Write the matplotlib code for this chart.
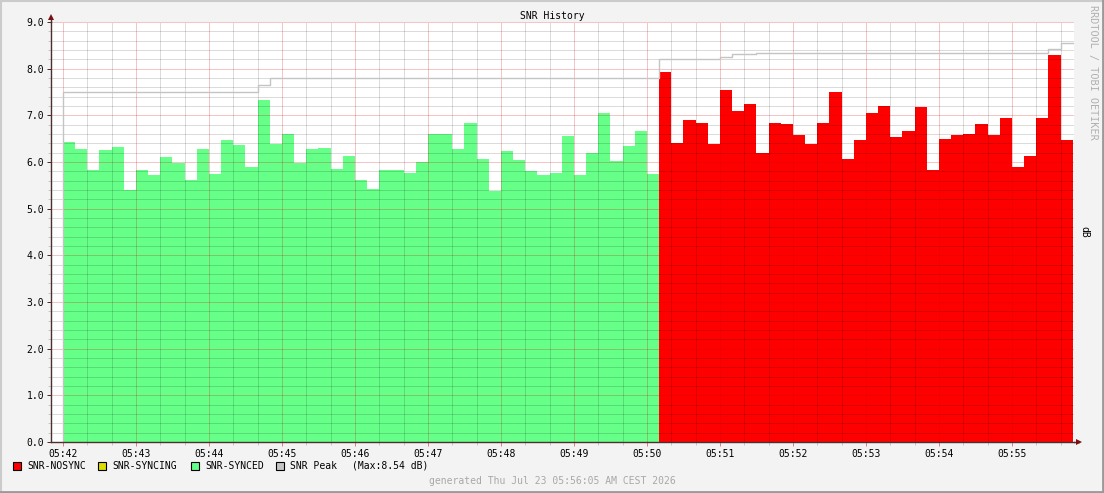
import matplotlib
matplotlib.use("Agg")
import matplotlib.pyplot as plt
from matplotlib.lines import Line2D
from matplotlib.patches import Rectangle
import numpy as np

# ---------------- data ----------------
step_s = 10  # seconds per sample
synced_vals = [6.43, 6.28, 5.83, 6.26, 6.32, 5.41, 5.83, 5.72, 6.11, 5.98,
               5.61, 6.28, 5.74, 6.47, 6.36, 5.89, 7.33, 6.39, 6.60, 5.98,
               6.28, 6.30, 5.85, 6.13, 5.61, 5.42, 5.83, 5.83, 5.76, 6.00,
               6.60, 6.60, 6.28, 6.84, 6.06, 5.38, 6.24, 6.04, 5.81, 5.72,
               5.76, 6.56, 5.72, 6.19, 7.05, 6.02, 6.34, 6.66, 5.74]
nosync_vals = [7.93, 6.41, 6.90, 6.84, 6.39, 7.54, 7.09, 7.24, 6.19, 6.84,
               6.81, 6.58, 6.39, 6.84, 7.50, 6.06, 6.47, 7.05, 7.20, 6.54,
               6.66, 7.18, 5.83, 6.49, 6.58, 6.60, 6.81, 6.58, 6.94, 5.89,
               6.13, 6.94, 8.29, 6.47]
peak_vals = ([7.50] * 16 + [7.66] + [7.81] * 32 + [8.20] * 5 + [8.25] +
             [8.31] * 2 + [8.33] * 24 + [8.43] + [8.54])
tick_labels = ["05:42", "05:43", "05:44", "05:45", "05:46", "05:47", "05:48",
               "05:49", "05:50", "05:51", "05:52", "05:53", "05:54", "05:55"]
legend_labels = ["SNR-NOSYNC", "SNR-SYNCING", "SNR-SYNCED", "SNR Peak"]
peak_max_text = "(Max:8.54 dB)"
title = "SNR History"
generated = "generated Thu Jul 23 05:56:05 AM CEST 2026"

# ---------------- colours ----------------
C_NOSYNC = "#FF0000"
C_SYNCING = "#DDDD00"
C_SYNCED = "#66FF88"
C_PEAK = "#C4C4C4"
C_BACK = "#F3F3F3"
C_AXIS = "#4A3030"
C_ARROW = "#7A1010"

W, H = 1104, 493
fig = plt.figure(figsize=(W / 100, H / 100), dpi=100, facecolor=C_BACK)
plt.rcParams["font.family"] = ["DejaVu Sans Mono"]
FS = 7

L, R, T, B = 51, 1074, 22, 442
ax = fig.add_axes([L / W, 1 - B / H, (R - L) / W, (B - T) / H])
ax.set_facecolor("white")

n_sync = len(synced_vals)
n_nosync = len(nosync_vals)
t_sync = np.arange(n_sync) * step_s
t_nosync = (np.arange(n_nosync) + n_sync) * step_s
t_all = np.arange(n_sync + n_nosync) * step_s

ax.bar(t_sync, synced_vals, width=step_s, align="edge", color=C_SYNCED,
       linewidth=0, zorder=1)
ax.bar(t_nosync, nosync_vals, width=step_s, align="edge", color=C_NOSYNC,
       linewidth=0, zorder=1)

x_end = (n_sync + n_nosync) * step_s
px_per_s = 73 / 60.0
ax.set_xlim(-(63 - L) / px_per_s, x_end + 1)
ax.set_ylim(0, 9.0)

# grids (drawn over the areas, under the peak line)
major_x = np.arange(len(tick_labels)) * 60
minor_x = np.arange(0, x_end + 1, 20)
major_y = np.arange(0, 9.01, 1.0)
minor_y = np.arange(0, 9.01, 0.2)
ax.set_xticks(major_x)
ax.set_xticks(minor_x, minor=True)
ax.set_xticklabels(tick_labels)
ax.set_yticks(major_y)
ax.set_yticks(minor_y, minor=True)
ax.set_yticklabels([f"{v:.1f}" for v in major_y])

dot = (0, (1, 1))
for xv in minor_x:
    if xv % 60:
        ax.axvline(xv, color="black", alpha=0.28, linestyle=dot, lw=0.72,
                   zorder=1.5)
for yv in minor_y:
    if abs(yv - round(yv)) > 1e-6:
        ax.axhline(yv, color="black", alpha=0.28, linestyle=dot, lw=0.72,
                   zorder=1.5)
for xv in major_x:
    ax.axvline(xv, color="#D00000", alpha=0.45, linestyle=dot, lw=0.72,
               zorder=1.6)
for yv in major_y[1:]:
    ax.axhline(yv, color="#D00000", alpha=0.45, linestyle=dot, lw=0.72,
               zorder=1.6)

# peak step line
px = np.concatenate([[t_all[0], t_all[0]], t_all, [t_all[-1] + step_s]])
py = np.concatenate([[0, peak_vals[0]], peak_vals, [peak_vals[-1]]])
ax.step(px, py, where="post", color=C_PEAK, linewidth=1.0, zorder=2)

ax.tick_params(which="major", length=3, width=0.72, color="#E08080",
               labelsize=FS, pad=2, direction="out")
ax.tick_params(which="minor", length=2, width=0.72, color="#C8C8C8",
               direction="out")
ax.tick_params(axis="y", which="major", color=C_AXIS)

for s in ("top", "right"):
    ax.spines[s].set_visible(False)
for s in ("left", "bottom"):
    ax.spines[s].set_color(C_AXIS)
    ax.spines[s].set_linewidth(1.0)
    ax.spines[s].set_zorder(3)

# axis extensions and arrows (in pixel space)
def fx(x):
    return x / W

def fy(y):
    return 1 - y / H

fig.add_artist(Line2D([fx(L), fx(L)], [fy(T), fy(17)], color=C_AXIS, lw=1.0))
fig.add_artist(Line2D([fx(R), fx(1079)], [fy(B), fy(B)], color=C_AXIS, lw=1.0))
fig.add_artist(Line2D([fx(L)], [fy(17)], marker="^", markersize=4.5,
                      color=C_ARROW, markeredgewidth=0))
fig.add_artist(Line2D([fx(1079)], [fy(B)], marker=">", markersize=4.5,
                      color=C_ARROW, markeredgewidth=0))

# titles and side texts
fig.text(fx(552), fy(16), title, ha="center", va="center", fontsize=FS,
         color="black")
fig.text(fx(1093), fy(5), "RRDTOOL / TOBI OETIKER", rotation=-90,
         ha="center", va="top", fontsize=7.3, color="#B0B0B0")
fig.text(fx(1084), fy(232), "dB", rotation=-90, ha="center", va="center",
         fontsize=FS, color="black")
fig.text(fx(552), fy(481), generated, ha="center", va="center", fontsize=FS,
         color="#A8A8A8")

# legend
leg_colors = [C_NOSYNC, C_SYNCING, C_SYNCED, C_PEAK]
box_x = [13, 98, 191, 276]
ly = 466
for bx, col, lab in zip(box_x, leg_colors, legend_labels):
    fig.add_artist(Rectangle((fx(bx), fy(ly + 4)), 8 / W, 8 / H,
                             facecolor=col, edgecolor="black", linewidth=0.8,
                             transform=fig.transFigure))
    fig.text(fx(bx + 14), fy(ly), lab, ha="left", va="center", fontsize=FS,
             color="black")
fig.text(fx(352), fy(ly), peak_max_text, ha="left", va="center", fontsize=FS,
         color="black")

# frame shading
fig.add_artist(Line2D([0, 1], [fy(0.5), fy(0.5)], color="#CBCBCB", lw=1.5))
fig.add_artist(Line2D([fx(0.5), fx(0.5)], [0, 1], color="#CBCBCB", lw=1.5))
fig.add_artist(Line2D([0, 1], [fy(492), fy(492)], color="#999999", lw=2))
fig.add_artist(Line2D([fx(1103), fx(1103)], [0, 1], color="#999999", lw=2))

fig.savefig("out.png", dpi=100, facecolor=C_BACK)
